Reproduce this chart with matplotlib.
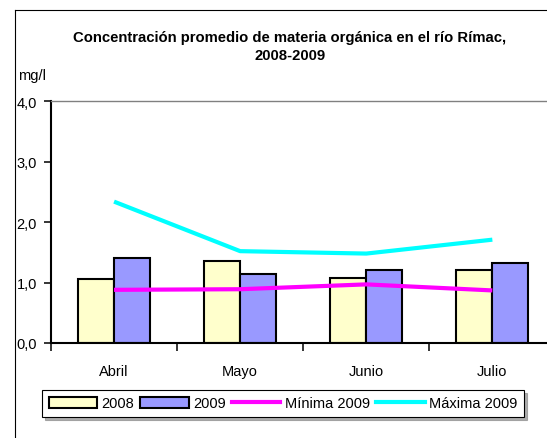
import matplotlib
matplotlib.use("Agg")
import matplotlib.pyplot as plt
from matplotlib.patches import Patch
from matplotlib.lines import Line2D
import numpy as np

categories = ["Abril", "Mayo", "Junio", "Julio"]
v2008 = [1.06, 1.36, 1.07, 1.21]
v2009 = [1.41, 1.14, 1.21, 1.32]
min2009 = [0.88, 0.89, 0.97, 0.87]
max2009 = [2.34, 1.52, 1.48, 1.71]
yticks = [0.0, 1.0, 2.0, 3.0, 4.0]
ytick_labels = ["0,0", "1,0", "2,0", "3,0", "4,0"]
series_names = ["2008", "2009", "Mínima 2009", "Máxima 2009"]
title = "Concentración promedio de materia orgánica en el río Rímac,\n2008-2009"
unit = "mg/l"

FONT = ["Liberation Sans Narrow", "Liberation Sans", "DejaVu Sans"]
plt.rcParams["font.family"] = FONT

W, H = 547, 439
fig = plt.figure(figsize=(W / 100, H / 100), dpi=100)

# outer chart frame (left and top only visible)
fig.add_artist(Line2D([15 / W, 15 / W], [0, 1 - 11 / H], color="black", lw=0.8,
                      transform=fig.transFigure))
fig.add_artist(Line2D([15 / W, 1], [1 - 11 / H, 1 - 11 / H], color="black", lw=0.8,
                      transform=fig.transFigure))

left_px, right_px, top_px, bot_px = 51, 555.4, 102.3, 344
ax = fig.add_axes([left_px / W, 1 - bot_px / H, (right_px - left_px) / W, (bot_px - top_px) / H])

x = np.arange(len(categories))
bw = 0.2857
ax.bar(x - bw / 2, v2008, bw, color="#FFFFCC", edgecolor="black", linewidth=1.5, zorder=2)
ax.bar(x + bw / 2, v2009, bw, color="#9999FF", edgecolor="black", linewidth=1.5, zorder=2)
ax.plot(x, min2009, color="#FF00FF", lw=3.0, zorder=3, solid_capstyle="butt")
ax.plot(x, max2009, color="#00FFFF", lw=3.0, zorder=3, solid_capstyle="butt")

ax.set_xlim(-0.5, 3.5)
ax.set_ylim(0, 4)
ax.set_yticks(yticks)
ax.set_yticklabels(ytick_labels, fontsize=10.5)
ax.set_xticks(x - 0.5)
ax.set_xticklabels([])
ax.set_xticks(x, minor=True)
ax.set_xticklabels(categories, minor=True, fontsize=10.5)
ax.tick_params(axis="x", which="minor", length=0, pad=15)
ax.tick_params(axis="x", which="major", length=5.5, width=1.1, direction="out")
ax.tick_params(axis="y", length=5, width=1.1, direction="out", pad=5)

for s in ["left", "bottom"]:
    ax.spines[s].set_color("black")
    ax.spines[s].set_linewidth(1.5)
ax.spines["top"].set_color("#808080")
ax.spines["top"].set_linewidth(1.0)
ax.spines["right"].set_visible(False)

fig.text(290 / W, 1 - 47 / H, title, ha="center", va="center", fontsize=10.7,
         fontweight="bold", linespacing=1.3, family=["Liberation Sans", "DejaVu Sans"])
fig.text(18 / W, 1 - 76 / H, unit, ha="left", va="center", fontsize=10.5)

handles = [
    Patch(facecolor="#FFFFCC", edgecolor="black", linewidth=1.5),
    Patch(facecolor="#9999FF", edgecolor="black", linewidth=1.5),
    Line2D([], [], color="#FF00FF", lw=3.0),
    Line2D([], [], color="#00FFFF", lw=3.0),
]
leg = fig.legend(handles, series_names, loc="center", bbox_to_anchor=(283 / W, 1 - 404.5 / H),
                 ncol=4, fontsize=10.5, frameon=True, fancybox=False, handlelength=3.3,
                 handleheight=0.8, handletextpad=0.3, columnspacing=0.45, borderpad=0.45,
                 borderaxespad=0, shadow={"color": "0.55", "alpha": 0.7})
leg.get_frame().set_edgecolor("black")
leg.get_frame().set_linewidth(0.8)

fig.savefig("out.png", dpi=100)
